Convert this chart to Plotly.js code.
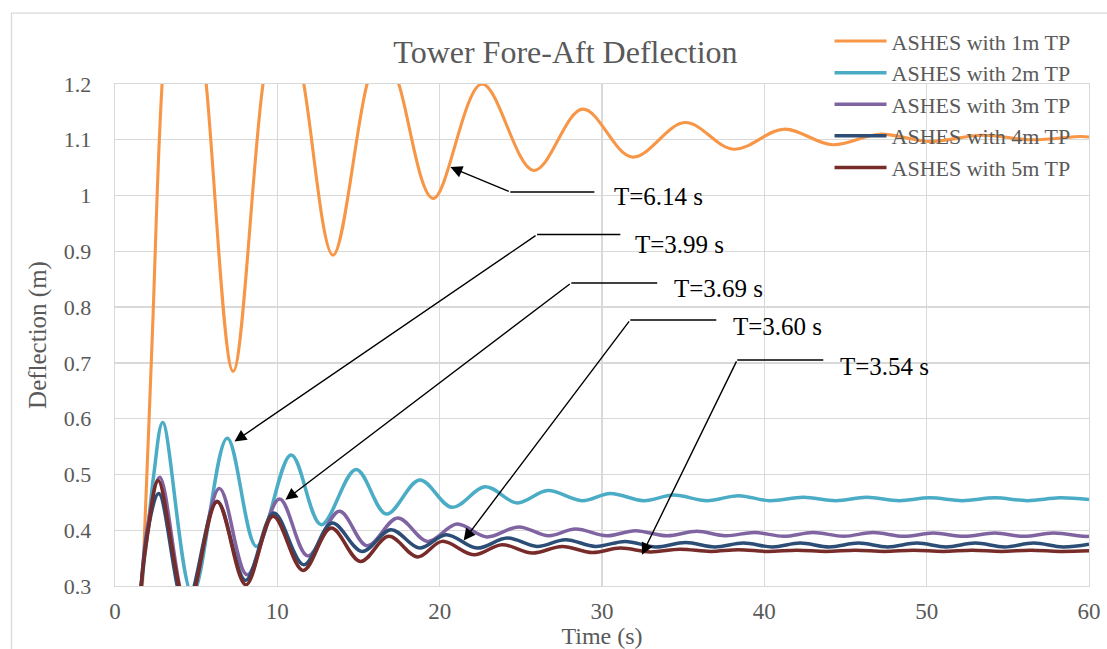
<!DOCTYPE html>
<html>
<head>
<meta charset="utf-8">
<script src="https://cdn.plot.ly/plotly-3.0.1.min.js"></script>
<style>html,body{margin:0;padding:0;background:#fff}#chart{width:1107px;height:649px}</style>
</head>
<body>
<div id="chart"></div>
<script>
// ---- data ----
var seriesNames = ["ASHES with 1m TP","ASHES with 2m TP","ASHES with 3m TP","ASHES with 4m TP","ASHES with 5m TP"];
var seriesColors = ["#F79646","#4BACC6","#8064A2","#2C4D75","#772C2A"];

var t1 = [0,1.2,1.69,2.3,2.9,4.1,5.62,7.28,9.12,10.38,11.63,13.43,15.53,16.5,17.48,19.6,22.6,25.8,28.8,31.85,35.1,38.1,41.2,44.2,47.1,50.2,53.4,56.5,59.5,60];
var y1 = [0,0.0,0.3,0.75,1.2,1.65,1.2,0.685,1.2,1.40,1.2,0.893,1.2,1.276,1.2,0.995,1.2,1.045,1.155,1.069,1.131,1.083,1.119,1.091,1.110,1.097,1.108,1.100,1.106,1.105];

var t2 = [0,1.2,1.64,2.02,2.39,2.94,4.77,6.91,8.72,10.85,12.70,14.85,16.72,18.77,20.76,22.81,24.77,26.65,28.77,30.51,32.56,34.41,36.47,38.41,40.3,42.4,44.4,46.3,48.3,50.2,52.2,54.2,56.2,58.2,60];
var y2 = [0,0.1,0.3,0.40,0.5,0.593,0.285,0.565,0.371,0.535,0.410,0.509,0.429,0.490,0.441,0.478,0.449,0.471,0.453,0.466,0.453,0.463,0.453,0.462,0.453,0.459,0.453,0.459,0.453,0.458,0.453,0.458,0.453,0.458,0.455];

var t3 = [0,1.2,1.61,2.02,2.76,4.45,6.43,8.14,10.13,11.87,13.82,15.53,17.41,19.26,21.07,22.9,24.87,26.71,28.36,30.3,32.05,34.0,35.85,37.6,39.4,41.2,43.0,44.9,46.7,48.6,50.4,52.3,54.2,56.0,57.8,59.7,60];
var y3 = [0,0.1,0.3,0.41,0.495,0.26,0.475,0.320,0.456,0.354,0.434,0.372,0.422,0.380,0.411,0.388,0.406,0.390,0.402,0.390,0.399,0.390,0.398,0.390,0.396,0.389,0.396,0.389,0.396,0.389,0.395,0.389,0.395,0.389,0.395,0.389,0.389];

var t4 = [0,1.2,1.61,2.02,2.70,4.34,6.29,8.04,9.78,11.63,13.37,15.22,17.0,18.75,20.4,22.3,24.15,26.0,27.74,29.6,31.43,33.3,35.15,36.95,38.7,40.5,42.2,44.0,45.8,47.6,49.4,51.2,53.0,54.8,56.6,58.4,60];
var y4 = [0,0.1,0.3,0.40,0.466,0.26,0.452,0.31,0.431,0.338,0.413,0.362,0.401,0.368,0.392,0.368,0.386,0.371,0.383,0.371,0.380,0.370,0.378,0.370,0.377,0.370,0.377,0.370,0.377,0.370,0.377,0.370,0.377,0.370,0.377,0.370,0.375];

var t5 = [0,1.2,1.61,2.02,2.66,4.45,6.29,8.06,9.74,11.59,13.31,15.12,16.86,18.65,20.15,22.1,23.84,25.7,27.54,29.4,31.13,32.97,34.8,36.67,38.4,40.2,42.0,43.8,45.6,47.4,49.2,51.0,52.8,54.6,56.4,58.2,60];
var y5 = [0,0.1,0.3,0.395,0.489,0.26,0.451,0.302,0.425,0.328,0.404,0.344,0.389,0.352,0.380,0.356,0.374,0.359,0.371,0.360,0.368,0.361,0.366,0.362,0.365,0.362,0.364,0.362,0.364,0.362,0.364,0.362,0.364,0.362,0.364,0.362,0.363];

var xTickVals = [0,10,20,30,40,50,60];
var yTickVals = [0.3,0.4,0.5,0.6,0.7,0.8,0.9,1.0,1.1,1.2];
var yTickText = ["0.3","0.4","0.5","0.6","0.7","0.8","0.9","1","1.1","1.2"];

// callouts: label, text position, elbow start/end, arrow tip
var calloutLabels = ["T=6.14 s","T=3.99 s","T=3.69 s","T=3.60 s","T=3.54 s"];
var calloutTextX = [30.63,31.93,34.33,37.96,44.55];
var calloutTextY = [0.9975,0.913,0.833,0.766,0.693];
var elbowX0 = [24.35,26.0,28.11,31.74,38.33];
var elbowX1 = [29.53,31.13,33.4,37.04,43.63];
var elbowY  = [1.0065,0.930,0.8434,0.777,0.7054];
var tipX = [20.66,7.36,10.5,21.48,32.46];
var tipY = [1.051,0.559,0.4545,0.3815,0.356];

var TS = [t1,t2,t3,t4,t5], YS = [y1,y2,y3,y4,y5];
var widths = [3.1,3.5,3.5,3.5,3.5];
var traces = TS.map(function(t,i){
  return {x:t, y:YS[i], type:'scatter', mode:'lines', name:seriesNames[i],
          line:{color:seriesColors[i], width:widths[i], shape:'spline', smoothing:1}};
});

var serif = "Liberation Serif, Times New Roman, serif";
var grey = "#595959";
var shapes = [{type:'rect', xref:'paper', yref:'paper', x0:-0.1063, x1:1.05, y0:-0.2, y1:1.1413,
               line:{color:'#D9D9D9', width:1.3}, fillcolor:'rgba(0,0,0,0)', layer:'below'}];
var annotations = [];
for (var i=0;i<calloutLabels.length;i++){
  shapes.push({type:'line', xref:'x', yref:'y', x0:elbowX0[i], x1:elbowX1[i], y0:elbowY[i], y1:elbowY[i],
               line:{color:'#000', width:1.5}});
  annotations.push({xref:'x', yref:'y', x:tipX[i], y:tipY[i], axref:'x', ayref:'y', ax:elbowX0[i], ay:elbowY[i],
               text:'', showarrow:true, arrowhead:2, arrowsize:1.7, arrowwidth:1.4, arrowcolor:'#000', standoff:0});
  annotations.push({xref:'x', yref:'y', x:calloutTextX[i], y:calloutTextY[i], text:calloutLabels[i], showarrow:false,
               xanchor:'left', yanchor:'middle', font:{family:serif, size:25, color:'#000'}});
}

var layout = {
  width:1107, height:649,
  margin:{l:114.5, r:18.4, t:84, b:62.5},
  paper_bgcolor:'#fff', plot_bgcolor:'#fff',
  title:{text:'Tower Fore-Aft Deflection', font:{family:serif, size:32, color:grey},
         xref:'paper', x:0.4625, xanchor:'center', yref:'container', y:0.92, yanchor:'middle'},
  xaxis:{range:[0,60], tickvals:xTickVals, showgrid:true, gridcolor:'#D9D9D9', gridwidth:1.3,
         showline:true, linecolor:'#D9D9D9', linewidth:1.3, mirror:true, zeroline:false,
         ticks:'', ticklabelstandoff:4, tickfont:{family:serif, size:23, color:grey},
         title:{text:'Time (s)', font:{family:serif, size:24, color:grey}, standoff:4}, fixedrange:true},
  yaxis:{range:[0.3,1.2], tickvals:yTickVals, ticktext:yTickText, showgrid:true, gridcolor:'#D9D9D9', gridwidth:1.3,
         showline:true, linecolor:'#D9D9D9', linewidth:1.3, mirror:true, zeroline:false,
         ticks:'', ticklabelstandoff:18, tickfont:{family:serif, size:22, color:grey},
         title:{text:'Deflection (m)', font:{family:serif, size:25, color:grey}, standoff:10}, fixedrange:true},
  showlegend:true,
  legend:{x:0.7336, xanchor:'left', y:1.127, yanchor:'top', bgcolor:'rgba(0,0,0,0)', borderwidth:0,
          font:{family:serif, size:22, color:grey}, itemwidth:52, tracegroupgap:0},
  shapes:shapes, annotations:annotations
};

Plotly.newPlot('chart', traces, layout, {displayModeBar:false, staticPlot:true});
</script>
</body>
</html>
